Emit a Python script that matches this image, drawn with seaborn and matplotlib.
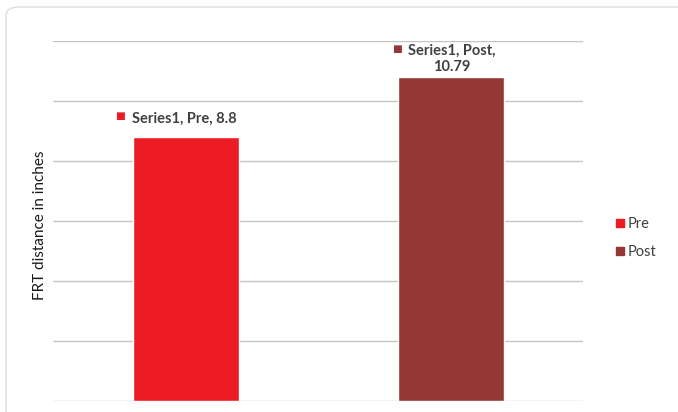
import matplotlib
matplotlib.use("Agg")
import matplotlib.pyplot as plt
import seaborn as sns
import pandas as pd
from matplotlib.lines import Line2D
from matplotlib.patches import FancyBboxPatch

categories = ["Pre", "Post"]
values = [8.8, 10.79]
series_name = "Series1"
value_labels = ["8.8", "10.79"]
y_label = "FRT distance in inches"
colors = ["#ED1C24", "#953735"]

sns.set_theme(style="white")
plt.rcParams["font.family"] = ["Lato", "DejaVu Sans"]

df = pd.DataFrame({"phase": categories, "value": values})

fig = plt.figure(figsize=(6.78, 4.12), dpi=100)
card = FancyBboxPatch((6 / 678, -0.1), 1.2, 1.1 - 7 / 412,
                      boxstyle="round,pad=0,rounding_size=0.02",
                      transform=fig.transFigure, facecolor="white",
                      edgecolor="#dcdcdc", linewidth=1.0, zorder=-10)
fig.patches.append(card)

ax = fig.add_axes([53 / 678, 1 - 401 / 412, 530 / 678, 360 / 412])
ax.set_zorder(2)
ax.set_facecolor("none")
ax.patch.set_alpha(0)
sns.barplot(data=df, x="phase", y="value", hue="phase", palette=colors,
            width=0.4, legend=False, ax=ax, saturation=1, zorder=3)
ax.set_ylim(0, 12)
ax.set_xlim(-0.5, 1.5)
ax.set_yticks(range(0, 13, 2))
ax.yaxis.grid(True, color="#c4c4c4", linewidth=1.0, zorder=0)
ax.set_axisbelow(True)
ax.tick_params(left=False, bottom=False, labelleft=False, labelbottom=False)
for s in ax.spines.values():
    s.set_visible(False)
ax.set_xlabel("")
ax.set_ylabel(y_label, fontsize=11, color="#1a1a1a")
ax.yaxis.set_label_coords(-6 / 530, (401 - 225) / 360)

lbl = dict(textcoords="offset pixels", ha="center", va="center",
           fontsize=10.5, fontweight="bold", color="#404040")
sq = dict(textcoords="offset pixels", ha="center", va="center", fontsize=7.5)

# Pre label (single line)
ax.annotate(f"{series_name}, {categories[0]}, {value_labels[0]}",
            (0, values[0]), xytext=(-1, 18), **lbl)
ax.annotate("■", (0, values[0]), xytext=(-66, 20), color=colors[0], **sq)

# Post label (two lines)
ax.annotate(f"{series_name}, {categories[1]},", (1, values[1]),
            xytext=(1, 27), **lbl)
ax.annotate(value_labels[1], (1, values[1]), xytext=(1, 10), **lbl)
ax.annotate("■", (1, values[1]), xytext=(-54, 28), color=colors[1], **sq)

handles = [Line2D([], [], marker="s", linestyle="", markersize=5.5,
                  markerfacecolor=c, markeredgecolor=c) for c in colors]
fig.legend(handles, categories, loc="center left",
           bbox_to_anchor=(614.5 / 678, 1 - 238 / 412), frameon=False,
           fontsize=10.5, labelcolor="#404040", handletextpad=0.17,
           handlelength=0.7, labelspacing=0.92, borderpad=0,
           borderaxespad=0)

fig.savefig("out.png", dpi=100)
